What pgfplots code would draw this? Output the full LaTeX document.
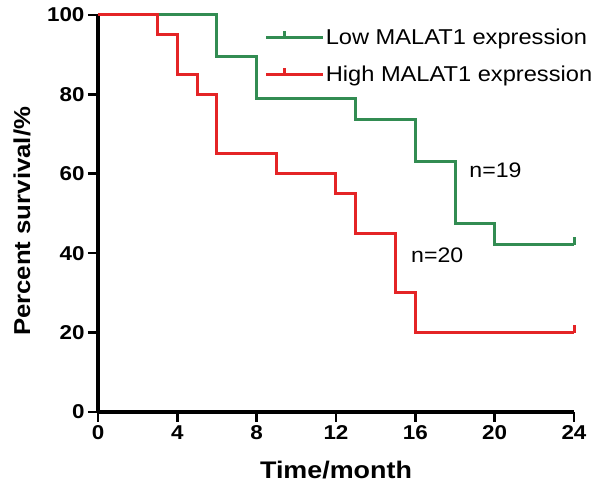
\documentclass[border=0pt]{standalone}
\usepackage{pgfplots}
\pgfplotsset{compat=1.18}
\usepackage{fontspec}
\setmainfont{Liberation Sans}
\newfontfamily\widefont[FakeStretch=1.1]{Liberation Sans}
\newfontfamily\widebold[FakeStretch=1.12]{Liberation Sans Bold}
\definecolor{kmgreen}{RGB}{50,140,82}
\definecolor{kmred}{RGB}{228,36,38}
\pgfdeclareplotmark{cens}{%
  \pgfpathmoveto{\pgfpoint{0pt}{0pt}}%
  \pgfpathlineto{\pgfpoint{0pt}{\pgfplotmarksize}}%
  \pgfusepathqstroke}
\begin{document}
\begin{tikzpicture}[x=1pt,y=1pt]
\useasboundingbox (-98,-72) rectangle (502,397+15);
\begin{axis}[
  at={(0,0)}, anchor=origin,
  scale only axis, width=476pt, height=397pt,
  xmin=0, xmax=24, ymin=0, ymax=100,
  axis x line=bottom, axis y line=left,
  axis line style={-, line width=3.2pt, black},
  every outer x axis line/.append style={line width=3.2pt},
  every outer y axis line/.append style={line width=3.2pt},
  xtick={0,4,8,12,16,20,24}, ytick={0,20,40,60,80,100},
  tick align=outside, major tick length=10pt,
  tick style={line width=2.6pt, black},
  /pgf/number format/assume math mode=true,
  tick label style={font=\widebold\fontsize{20}{22}\selectfont},
  xlabel={Time/month}, ylabel={Percent survival/\%},
  xlabel style={font=\widebold\fontsize{24}{26}\selectfont, at={(axis description cs:0.5,0)}, anchor=north, yshift=-46pt},
  ylabel style={font=\widebold\fontsize{23}{26}\selectfont, at={(axis description cs:0,0.48)}, anchor=south, yshift=64pt},
  legend style={draw=none, fill=none, at={(axis cs:8.25,97.4)}, anchor=north west,
    font=\widefont\fontsize{21.5}{24}\selectfont, row sep=18pt,
    nodes={inner sep=1pt}},
  legend cell align=left,
  legend image code/.code={%
    \draw[#1, mark=none] (0pt,0pt) -- (37pt,0pt);
    \draw[#1, mark=none] (18.5pt,0pt) -- (18.5pt,6pt);
    \path (0pt,0pt) -- (57pt,0pt);},
  clip=false,
]
\addplot[const plot, color=kmgreen, line width=3pt, line join=miter, mark=cens, mark size=8pt, mark indices={8}] coordinates {
  (0,100) (6,89.47) (8,78.95) (13,73.68) (16,63.16) (18,47.37) (20,42.11) (24,42.11)
};
\addlegendentry{Low MALAT1 expression}
\addplot[const plot, color=kmred, line width=3pt, line join=miter, mark=cens, mark size=8pt, mark indices={11}] coordinates {
  (0,100) (3,95) (4,85) (5,80) (6,65) (9,60) (12,55) (13,45) (15,30) (16,20) (24,20)
};
\addlegendentry{High MALAT1 expression}
\node[anchor=west, inner sep=0pt, font=\widefont\fontsize{21}{22}\selectfont] at (axis cs:18.72,61) {n=19};
\node[anchor=west, inner sep=0pt, font=\widefont\fontsize{21}{22}\selectfont] at (axis cs:15.78,39.5) {n=20};
\end{axis}
\end{tikzpicture}
\end{document}
